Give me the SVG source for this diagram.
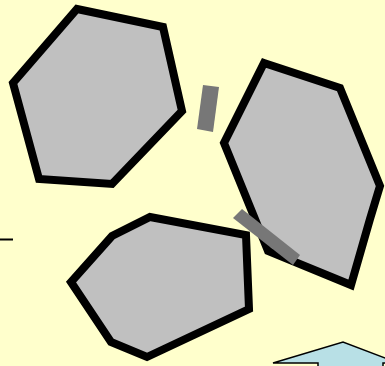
<svg xmlns="http://www.w3.org/2000/svg" width="385" height="366" viewBox="0 0 385 366">
<style>
.node{fill:#C0C0C0;stroke:#000;stroke-width:8;stroke-linejoin:miter}
.bar{fill:#777777;stroke:none}
</style>
<rect width="385" height="366" fill="#FFFFCC"/>
<g id="connectors">
<line x1="0" y1="239.5" x2="13" y2="239.5" stroke="#000" stroke-width="2"/>
</g>
<g id="node1"><polygon class="node" points="77,9 163,27 182,111 112,184 39,179 13,83"/></g>
<g id="node2"><polygon class="node" points="264,63 340,88 380,186 370,219 351,285 268,251 224,143"/></g>
<g id="node3"><polygon class="node" points="150,217 246,235 249,309 147,357 111,342 71,282 112,236"/></g>
<g id="bar1"><polygon class="bar" points="203,85 219,87 213,132 197,129"/></g>
<g id="bar2"><polygon class="bar" points="233,218 242,209 300,255 293,265"/></g>
<g id="arrow"><polygon points="318,372 318,363 273,363 343,342 398,363 383,363 383,372" fill="#B8E0E6" stroke="#000" stroke-width="1.5"/></g>
</svg>
